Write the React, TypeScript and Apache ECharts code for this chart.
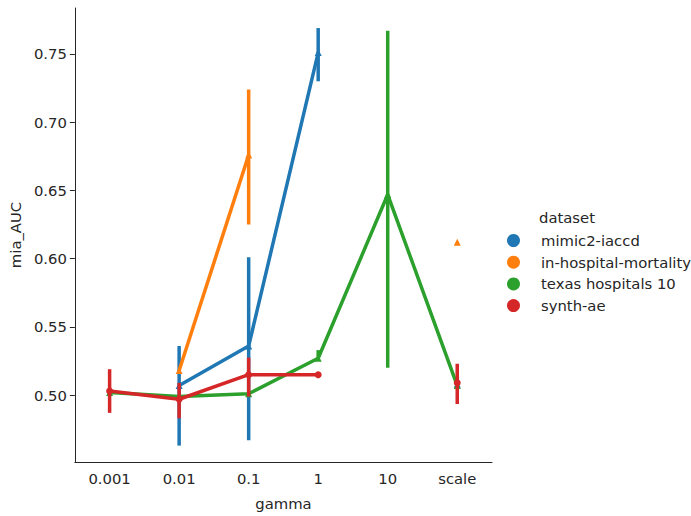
import React, { useEffect, useRef } from "react";
import * as echarts from "echarts";

const categories = ["0.001", "0.01", "0.1", "1", "10", "scale"];
const yTicks = [0.5, 0.55, 0.6, 0.65, 0.7, 0.75];

const seriesNames = ["mimic2-iaccd", "in-hospital-mortality", "texas hospitals 10", "synth-ae"];
const colors = ["#1f77b4", "#ff7f0e", "#2ca02c", "#d62728"];
const symbols = ["triangle", "triangle", "triangle", "circle"];

const blueMean = [null, 0.507, 0.536, 0.751, null, 0.508];
const blueLow = [null, 0.463, 0.467, 0.73, null, null];
const blueHigh = [null, 0.536, 0.601, 0.769, null, null];

const orangeMean = [null, 0.518, 0.676, null, null, 0.612];
const orangeLow = [null, null, 0.625, null, null, null];
const orangeHigh = [null, null, 0.724, null, null, null];

const greenMean = [0.502, 0.499, 0.501, 0.527, 0.647, 0.507];
const greenLow = [null, null, null, 0.525, 0.52, null];
const greenHigh = [null, null, null, 0.533, 0.767, null];

const redMean = [0.503, 0.497, 0.515, 0.515, null, 0.509];
const redLow = [0.487, 0.483, 0.499, null, null, 0.4935];
const redHigh = [0.519, 0.509, 0.5275, null, null, 0.523];

const means = [blueMean, orangeMean, greenMean, redMean];
const lows = [blueLow, orangeLow, greenLow, redLow];
const highs = [blueHigh, orangeHigh, greenHigh, redHigh];

const FONT = "DejaVu Sans";
const TXT = "#262626";
const FS = 14.8;

export default function App() {
  const ref = useRef<HTMLDivElement>(null);
  useEffect(() => {
    if (!ref.current) return;
    const chart = echarts.init(ref.current, undefined, { renderer: "svg" });
    const series: any[] = [];
    seriesNames.forEach((name, i) => {
      const errData: any[] = [];
      categories.forEach((c, j) => {
        const lo = lows[i][j];
        const hi = highs[i][j];
        if (lo != null && hi != null) errData.push([j, lo, hi]);
      });
      series.push({
        type: "custom",
        name,
        data: errData,
        z: 2 + i * 2,
        silent: true,
        renderItem: (params: any, api: any) => {
          const x = api.value(0);
          const p1 = api.coord([x, api.value(1)]);
          const p2 = api.coord([x, api.value(2)]);
          return {
            type: "line",
            shape: { x1: p1[0], y1: p1[1], x2: p2[0], y2: p2[1] },
            style: { stroke: colors[i], lineWidth: 3.5 },
          };
        },
      });
      series.push({
        type: "line",
        name,
        data: means[i],
        z: 3 + i * 2,
        connectNulls: false,
        showSymbol: true,
        showAllSymbol: true,
        symbol: symbols[i],
        symbolSize: 7,
        itemStyle: { color: colors[i] },
        lineStyle: { color: colors[i], width: 3.5 },
      });
    });

    chart.setOption({
      animation: false,
      color: colors,
      grid: { left: 72, right: 199, top: 8, bottom: 47, containLabel: false },
      xAxis: {
        type: "category",
        data: categories,
        boundaryGap: true,
        name: "gamma",
        nameLocation: "middle",
        nameGap: 34,
        nameTextStyle: { fontFamily: FONT, fontSize: FS, color: TXT },
        axisLine: { lineStyle: { color: TXT, width: 1 } },
        axisTick: { alignWithLabel: true, length: 5, lineStyle: { color: TXT } },
        axisLabel: { fontFamily: FONT, fontSize: FS, color: TXT, margin: 9 },
        splitLine: { show: false },
      },
      yAxis: {
        type: "value",
        min: 0.451,
        max: 0.7837,
        name: "mia_AUC",
        nameLocation: "middle",
        nameGap: 50,
        nameRotate: 90,
        nameTextStyle: { fontFamily: FONT, fontSize: FS, color: TXT },
        axisLine: { show: true, lineStyle: { color: TXT, width: 1 } },
        axisTick: { show: true, length: 5, lineStyle: { color: TXT }, customValues: yTicks },
        axisLabel: {
          fontFamily: FONT,
          fontSize: FS,
          color: TXT,
          margin: 8,
          customValues: yTicks,
          formatter: (v: number) => v.toFixed(2),
        },
        splitLine: { show: false },
      },
      legend: {
        data: seriesNames.map((n) => ({ name: n, icon: "circle" })),
        orient: "vertical",
        left: 507,
        top: 233,
        padding: 0,
        itemWidth: 13,
        itemHeight: 13,
        itemGap: 6.7,
        textStyle: { fontFamily: FONT, fontSize: FS, color: TXT, padding: [0, 0, 0, 16] },
        selectedMode: false,
      },
      graphic: [
        {
          type: "text",
          x: 567,
          y: 217,
          style: {
            text: "dataset",
            fontFamily: FONT,
            fontSize: FS,
            fill: TXT,
            align: "center",
            verticalAlign: "middle",
          },
        },
      ],
      series,
    });
    return () => chart.dispose();
  }, []);
  return <div ref={ref} style={{ width: 691, height: 516, position: "absolute", left: 0, top: 0 }} />;
}
